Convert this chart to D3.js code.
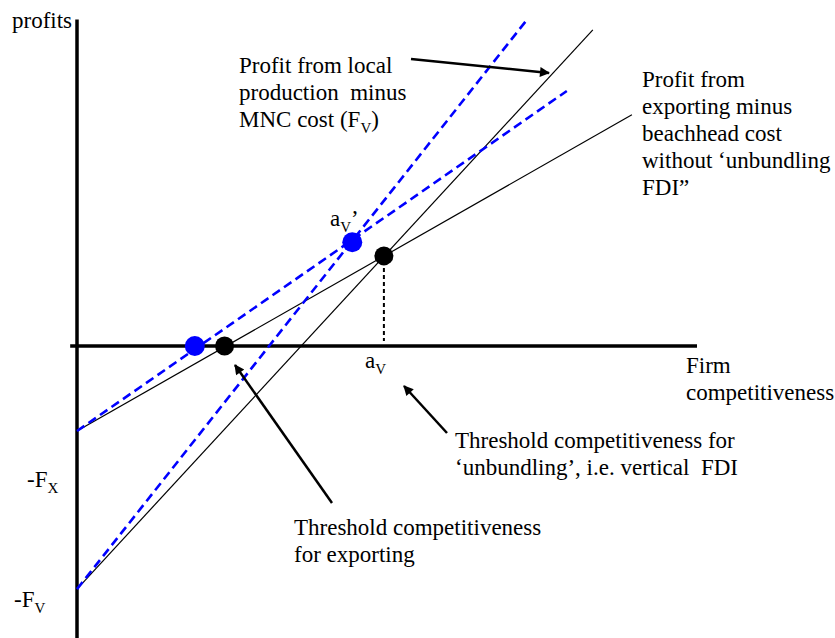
<!DOCTYPE html>
<html>
<head>
<meta charset="utf-8">
<script src="https://cdn.jsdelivr.net/npm/d3@7"></script>
<style>
  body { margin: 0; background: #fff; }
  svg { display: block; }
  text { font-family: "Liberation Serif", "Times New Roman", serif; font-size: 23px; fill: #000; }
</style>
</head>
<body>
<svg id="chart" width="835" height="638"></svg>
<script>
// ----------------------------------------------------------------------
// DATA (x = firm competitiveness, y = profits, F_X taken as 1)
// ----------------------------------------------------------------------
const exportLine    = [[0, -1],    [8.95, 2.72]];  // exporting minus beachhead cost
const localLine     = [[0, -2.86], [8.32, 3.72]];  // local production minus MNC cost
const exportLineNew = [[0, -1],    [7.90, 3.00]];  // blue dashed, after unbundling
const localLineNew  = [[0, -2.86], [7.27, 3.85]];
const blackDots = [[2.38, 0], [4.95, 1.06]];        // export threshold, a_V
const blueDots  = [[1.90, 0], [4.44, 1.22]];        // new export threshold, a_V'
const xAxisExtent = [-0.11, 10];
const yAxisExtent = [-3.45, 3.84];

const svg = d3.select("#chart");

const x = d3.scaleLinear().domain([0, 10]).range([77, 697]);
const y = d3.scaleLinear().domain([-4, 4]).range([686, 6]);

const line = d3.line().x(d => x(d[0])).y(d => y(d[1]));

// arrow marker
svg.append("defs").append("marker")
  .attr("id", "arrow")
  .attr("viewBox", "0 0 10 10")
  .attr("refX", 9).attr("refY", 5)
  .attr("markerWidth", 5).attr("markerHeight", 4)
  .attr("markerUnits", "strokeWidth")
  .attr("orient", "auto")
  .append("path")
  .attr("d", "M0,0 L10,5 L0,10 Z")
  .attr("fill", "#000");

// ----------------------------------------------------------------------
// AXES
// ----------------------------------------------------------------------
svg.append("line")
  .attr("x1", x(0)).attr("x2", x(0))
  .attr("y1", y(yAxisExtent[1])).attr("y2", y(yAxisExtent[0]))
  .attr("stroke", "#000").attr("stroke-width", 3.5);

svg.append("line")
  .attr("x1", x(xAxisExtent[0])).attr("x2", x(xAxisExtent[1]))
  .attr("y1", y(0)).attr("y2", y(0))
  .attr("stroke", "#000").attr("stroke-width", 3.5);

// ----------------------------------------------------------------------
// PROFIT LINES
// ----------------------------------------------------------------------
[exportLine, localLine].forEach(l => {
  svg.append("path").attr("d", line(l))
    .attr("fill", "none").attr("stroke", "#000").attr("stroke-width", 1.2);
});

[exportLineNew, localLineNew].forEach(l => {
  svg.append("path").attr("d", line(l))
    .attr("fill", "none").attr("stroke", "#0000ff")
    .attr("stroke-width", 2.6).attr("stroke-dasharray", "9,5");
});

// dashed drop line at a_V
svg.append("line")
  .attr("x1", x(blackDots[1][0])).attr("x2", x(blackDots[1][0]))
  .attr("y1", y(blackDots[1][1]) + 12).attr("y2", y(0) - 5)
  .attr("stroke", "#000").attr("stroke-width", 2).attr("stroke-dasharray", "4,3");

// dots
svg.selectAll("circle.blue").data(blueDots).enter().append("circle")
  .attr("class", "blue")
  .attr("cx", d => x(d[0])).attr("cy", d => y(d[1]))
  .attr("r", 10).attr("fill", "#0000ff");

svg.selectAll("circle.black").data(blackDots).enter().append("circle")
  .attr("class", "black")
  .attr("cx", d => x(d[0])).attr("cy", d => y(d[1]))
  .attr("r", 9.5).attr("fill", "#000");

// ----------------------------------------------------------------------
// ARROWS
// ----------------------------------------------------------------------
const arrows = [
  [411, 59, 549, 73],
  [332, 503, 235, 365],
  [447, 433, 404, 386]
];
arrows.forEach(a => {
  svg.append("line")
    .attr("x1", a[0]).attr("y1", a[1]).attr("x2", a[2]).attr("y2", a[3])
    .attr("stroke", "#000").attr("stroke-width", 2.5)
    .attr("marker-end", "url(#arrow)");
});

// ----------------------------------------------------------------------
// TEXT (each line is a list of [text, isSubscript])
// ----------------------------------------------------------------------
function label(px, py, lines, gap = 27) {
  const t = svg.append("text").attr("x", px).attr("y", py);
  lines.forEach((segs, i) => {
    segs.forEach((s, j) => {
      const ts = t.append("tspan").text(s[0]);
      if (j === 0) ts.attr("x", px).attr("y", py + i * gap);
      if (s[1]) ts.attr("font-size", "15px").attr("dy", 6);
      else if (j > 0 && segs[j - 1][1]) ts.attr("dy", -6);
    });
  });
}

label(12, 28, [[["profits"]]]);
label(239, 73, [
  [["Profit from local"]],
  [["production\u00a0 minus"]],
  [["MNC cost (F"], ["V", true], [")"]]
]);
label(642, 87, [
  [["Profit from"]],
  [["exporting minus"]],
  [["beachhead cost"]],
  [["without \u2018unbundling"]],
  [["FDI\u201d"]]
]);
label(686, 373, [[["Firm"]], [["competitiveness"]]]);
label(455, 448, [
  [["Threshold competitiveness for"]],
  [["\u2018unbundling\u2019, i.e. vertical\u00a0 FDI"]]
]);
label(294, 535, [[["Threshold competitiveness"]], [["for exporting"]]]);
label(330, 226, [[["a"], ["V", true], ["\u2019"]]]);
label(365, 368, [[["a"], ["V", true]]]);
label(27, 487, [[["-F"], ["X", true]]]);
label(14, 607, [[["-F"], ["V", true]]]);
</script>
</body>
</html>
